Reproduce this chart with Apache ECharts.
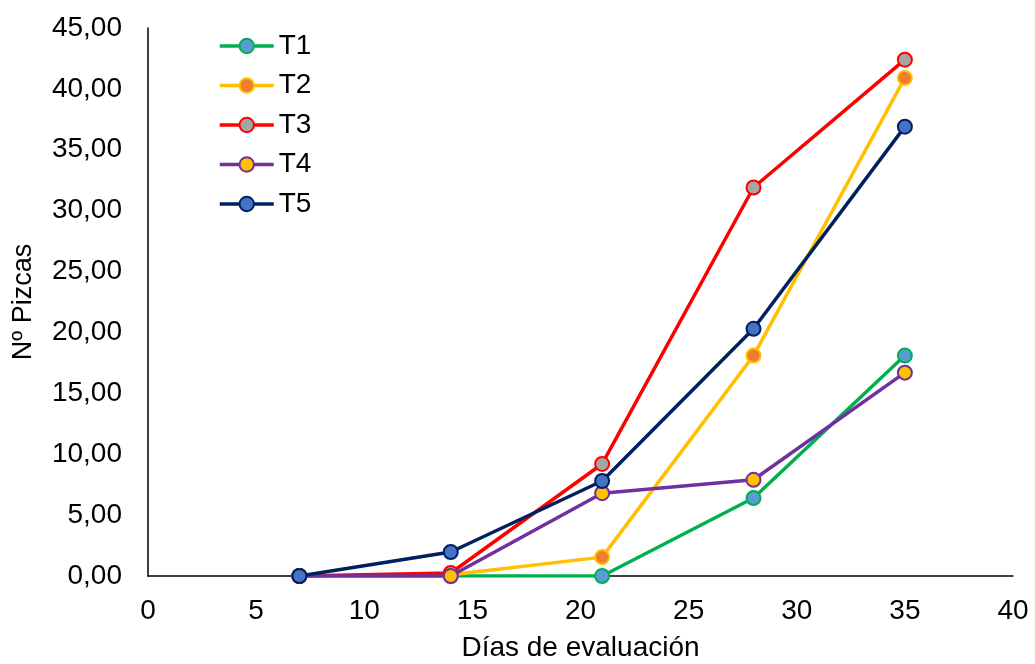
<!DOCTYPE html>
<html><head><meta charset="utf-8">
<script src="https://cdn.jsdelivr.net/npm/echarts@6/dist/echarts.min.js"></script>
<style>html,body{margin:0;padding:0;background:#fff}#c{width:1035px;height:664px}</style>
</head><body><div id="c"></div>
<script>
const days = [7, 14, 21, 28, 35];
const T1 = [0, 0, 0, 6.4, 18.1];
const T2 = [0, 0.1, 1.55, 18.1, 40.9];
const T3 = [0, 0.25, 9.2, 31.9, 42.4];
const T4 = [0, 0, 6.8, 7.9, 16.7];
const T5 = [0, 1.97, 7.8, 20.3, 36.9];
const names = ['T1','T2','T3','T4','T5'];
const values = [T1, T2, T3, T4, T5];
const lineColors = ['#00B050', '#FFC000', '#FF0000', '#7030A0', '#002060'];
const markerColors = ['#5B9BD5', '#ED7D31', '#A5A5A5', '#FFC000', '#4472C4'];
const font = 'Liberation Sans, Arial, sans-serif';
const chart = echarts.init(document.getElementById('c'));
chart.setOption({
  animation: false,
  grid: {left: 148, right: 22, top: 28, bottom: 88, containLabel: false, outerBoundsMode: 'none'},
  legend: {
    left: 213, top: 27, orient: 'vertical', itemGap: 11.5, itemWidth: 54, itemHeight: 18,
    textStyle: {fontFamily: font, fontSize: 28, lineHeight: 28, color: '#000'},
    lineStyle: {width: 3.5},
    data: names
  },
  xAxis: {
    type: 'value', min: 0, max: 40, interval: 5,
    name: 'Días de evaluación', nameLocation: 'middle', nameGap: 58,
    nameTextStyle: {fontFamily: font, fontSize: 28, color: '#000'},
    axisLine: {show: true, onZero: false, lineStyle: {color: '#000', width: 1.5}},
    axisTick: {show: false}, splitLine: {show: false},
    axisLabel: {fontFamily: font, fontSize: 28, color: '#000', margin: 21}
  },
  yAxis: {
    type: 'value', min: 0, max: 45, interval: 5,
    name: 'Nº Pizcas', nameLocation: 'middle', nameGap: 111,
    nameTextStyle: {fontFamily: font, fontSize: 27, color: '#000'},
    axisLine: {show: true, lineStyle: {color: '#000', width: 1.5}},
    axisTick: {show: false}, splitLine: {show: false},
    axisLabel: {fontFamily: font, fontSize: 28, color: '#000', margin: 26,
      formatter: v => v.toFixed(2).replace('.', ',')}
  },
  series: names.map((n, i) => ({
    name: n, type: 'line',
    data: days.map((d, j) => [d, values[i][j]]),
    symbol: 'circle', symbolSize: 14,
    lineStyle: {color: lineColors[i], width: 3.5},
    itemStyle: {color: markerColors[i], borderColor: lineColors[i], borderWidth: 2},
    z: 2 + i
  }))
});
</script></body></html>
